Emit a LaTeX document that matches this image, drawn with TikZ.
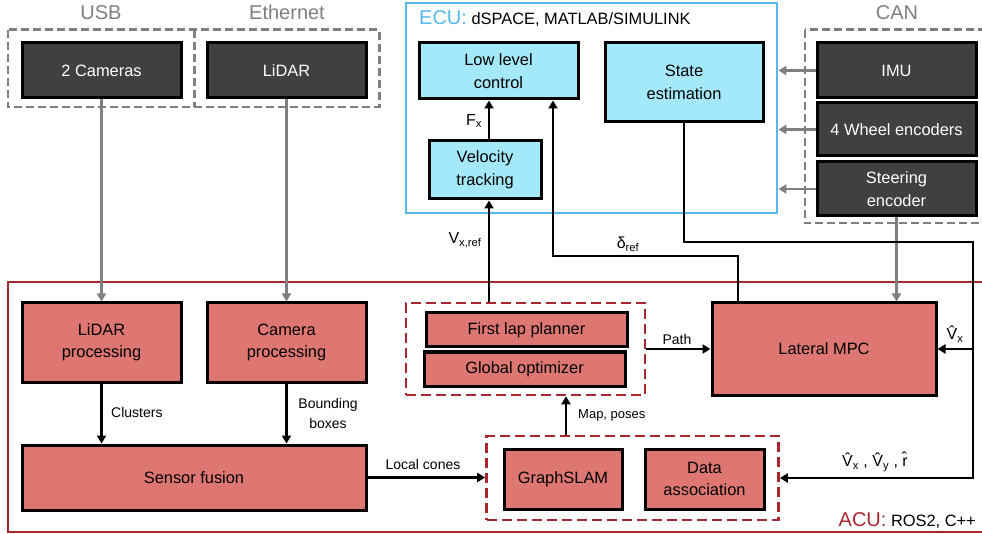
\documentclass[tikz,border=0pt]{standalone}
\usepackage{fontspec}
\setmainfont{Liberation Sans}
\usetikzlibrary{arrows.meta}

\definecolor{hwgray}{HTML}{404040}
\definecolor{busgray}{HTML}{7F7F7F}
\definecolor{ecucyan}{HTML}{A4E9F9}
\definecolor{ecublue}{HTML}{55B8EE}
\definecolor{acured}{HTML}{DE7772}
\definecolor{acudark}{HTML}{A8262E}

\tikzset{
  box/.style={draw=black, line width=3pt, inner sep=0pt, align=center,
    font=\fontsize{16.4}{22.5}\selectfont},
  hwbox/.style={box, fill=hwgray, text=white},
  ecubox/.style={box, fill=ecucyan},
  acubox/.style={box, fill=acured},
  busline/.style={draw=busgray, line width=2.6pt, dash pattern=on 8pt off 4pt},
  groupframe/.style={draw=acudark, line width=2.6pt, dash pattern=on 10pt off 5pt, inner sep=0pt},
  buslabel/.style={text=busgray, font=\fontsize{20}{24}\selectfont, inner sep=0pt},
  sig/.style={font=\fontsize{14}{20}\selectfont, inner sep=0pt, align=center},
  msig/.style={font=\fontsize{16}{19}\selectfont, inner sep=0pt},
  arr/.style={draw=black, line width=2.4pt, -{Triangle[length=8pt,width=9pt]}},
  garr/.style={draw=busgray, line width=2.4pt, -{Triangle[length=8pt,width=9pt]}},
}

\begin{document}
\begin{tikzpicture}[x=1pt,y=-1pt]
\useasboundingbox (0,0) rectangle (982,534);
\clip (0,0) rectangle (982,534);

% ---------------- bus frames and sensors ----------------
\node[inner sep=0pt, minimum width=186pt, minimum height=77pt] (usbframe) at (101,68.5) {};
\node[inner sep=0pt, minimum width=185pt, minimum height=77pt] (ethframe) at (286.5,68.5) {};
\node[inner sep=0pt, minimum width=185pt, minimum height=193pt] (canframe) at (897.5,126.5) {};
\draw[busline] (usbframe.north west) rectangle (ethframe.south east);
\draw[busline] (usbframe.north east) -- (usbframe.south east);
\draw[busline] (canframe.north west) rectangle (canframe.south east);

\node[buslabel, anchor=base] (usblbl) at (101,20) {USB};
\node[buslabel, anchor=base] (ethlbl) at (287,20) {Ethernet};
\node[buslabel, anchor=base] (canlbl) at (897,20) {CAN};

\node[hwbox, minimum width=159pt, minimum height=55pt] (cam) at (101.5,70.5) {2 Cameras};
\node[hwbox, minimum width=159pt, minimum height=55pt] (lidar) at (286.5,70.5) {LiDAR};
\node[hwbox, minimum width=159pt, minimum height=55pt] (imu) at (896.5,70.5) {IMU};
\node[hwbox, minimum width=159pt, minimum height=53pt] (wheel) at (896.5,129.5) {4 Wheel encoders};
\node[hwbox, minimum width=159pt, minimum height=54pt] (steer) at (896.5,189) {Steering\\encoder};

% ---------------- ECU ----------------
\node[draw=ecublue, line width=2.8pt, minimum width=371pt, minimum height=210pt, inner sep=0pt] (ecu) at (591.5,108) {};
\node[anchor=base west, inner sep=0pt, font=\fontsize{16.4}{19.5}\selectfont] (eculbl) at (419,25)
  {{\color{ecublue}\fontsize{20}{24}\selectfont ECU:} dSPACE, MATLAB/SIMULINK};

\node[ecubox, minimum width=159pt, minimum height=56pt] (llc) at (498.5,71) {Low level\\control};
\node[ecubox, minimum width=158pt, minimum height=79pt] (stateest) at (684,82.5) {State\\estimation};
\node[ecubox, minimum width=112pt, minimum height=58pt] (veltrack) at (485,170) {Velocity\\tracking};

% ---------------- ACU ----------------
\node[draw=acudark, line width=2.6pt, minimum width=987pt, minimum height=250pt, inner sep=0pt] (acu) at (501.5,407) {};
\node[anchor=base east, inner sep=0pt, font=\fontsize{16.4}{19.5}\selectfont] (aculbl) at (976,526)
  {{\color{acudark}\fontsize{20}{24}\selectfont ACU:} ROS2, C++};

\node[acubox, minimum width=159pt, minimum height=79pt] (lidarproc) at (101.5,342.5) {LiDAR\\processing};
\node[acubox, minimum width=159pt, minimum height=79pt] (camproc) at (286.5,342.5) {Camera\\processing};
\node[acubox, minimum width=344pt, minimum height=65pt] (fusion) at (194,477.5) {Sensor fusion};

\node[groupframe, minimum width=239pt, minimum height=92pt] (planframe) at (525.5,349) {};
\node[acubox, minimum width=201pt, minimum height=34pt] (flp) at (526.5,330) {First lap planner};
\node[acubox, minimum width=201pt, minimum height=34pt] (gopt) at (524.5,369) {Global optimizer};

\node[acubox, minimum width=224pt, minimum height=92pt] (lmpc) at (824,349) {Lateral MPC};

\node[groupframe, minimum width=292pt, minimum height=84pt] (slamframe) at (632.5,478) {};
\node[acubox, minimum width=118pt, minimum height=60pt] (gslam) at (563,479) {GraphSLAM};
\node[acubox, minimum width=119pt, minimum height=60pt] (dassoc) at (704.5,479) {Data\\association};

% ---------------- sensor links ----------------
\draw[garr] (cam.south) -- (lidarproc.north);
\draw[garr] (lidar.south) -- (camproc.north);
\draw[garr] (imu.west) -- (imu.west -| ecu.east);
\draw[garr] (wheel.west) -- (wheel.west -| ecu.east);
\draw[garr] (steer.west) -- (steer.west -| ecu.east);
\draw[garr] (steer.south) -- (steer.south |- lmpc.north);

% ---------------- signal links ----------------
\coordinate (vxcol) at (489,0);
\coordinate (mpcol) at (566,0);
\coordinate (dleft) at (553,256);
\coordinate (dright) at (738,256);
\coordinate (fbtop) at (973,242);

\draw[arr] (lidarproc.south) -- (fusion.north -| lidarproc.south);
\draw[arr] (camproc.south) -- (fusion.north -| camproc.south);
\draw[arr] (fusion.east) -- (slamframe.west |- fusion.east);
\draw[arr] (slamframe.north -| mpcol) -- (planframe.south -| mpcol);
\draw[arr] (planframe.east) -- (lmpc.west |- planframe.east);
\draw[arr] (planframe.north -| vxcol) -- (veltrack.south -| vxcol);
\draw[arr] (veltrack.north -| vxcol) -- (llc.south -| vxcol);
\draw[arr] (lmpc.north -| dright) -- (dright) -- (dleft) -- (llc.south -| dleft);
\draw[arr] (stateest.south) |- (fbtop) |- (slamframe.east);
\draw[arr] (fbtop |- lmpc.east) -- (lmpc.east);

% ---------------- signal labels ----------------
\node[sig, anchor=west] (lblclusters) at (111,412) {Clusters};
\node[sig] (lblboxes) at (328,413) {Bounding\\boxes};
\node[sig] (lblcones) at (423,464) {Local cones};
\node[sig, anchor=west, font=\fontsize{13}{15}\selectfont] (lblmap) at (578,415) {Map, poses};
\node[sig] (lblpath) at (677,339) {Path};
\node[msig] (lblfx) at (474,121) {F\textsubscript{x}};
\node[msig] (lblvref) at (465,240) {V\textsubscript{x,ref}};
\node[msig] (lbldref) at (628,244) {δ\textsubscript{ref}};
\node[msig] (lblvx) at (955,334) {V^^^^0302\textsubscript{x}};
\node[msig] (lblstate) at (875,462) {V^^^^0302\textsubscript{x} , V^^^^0302\textsubscript{y} , r^^^^0302};
\end{tikzpicture}
\end{document}
